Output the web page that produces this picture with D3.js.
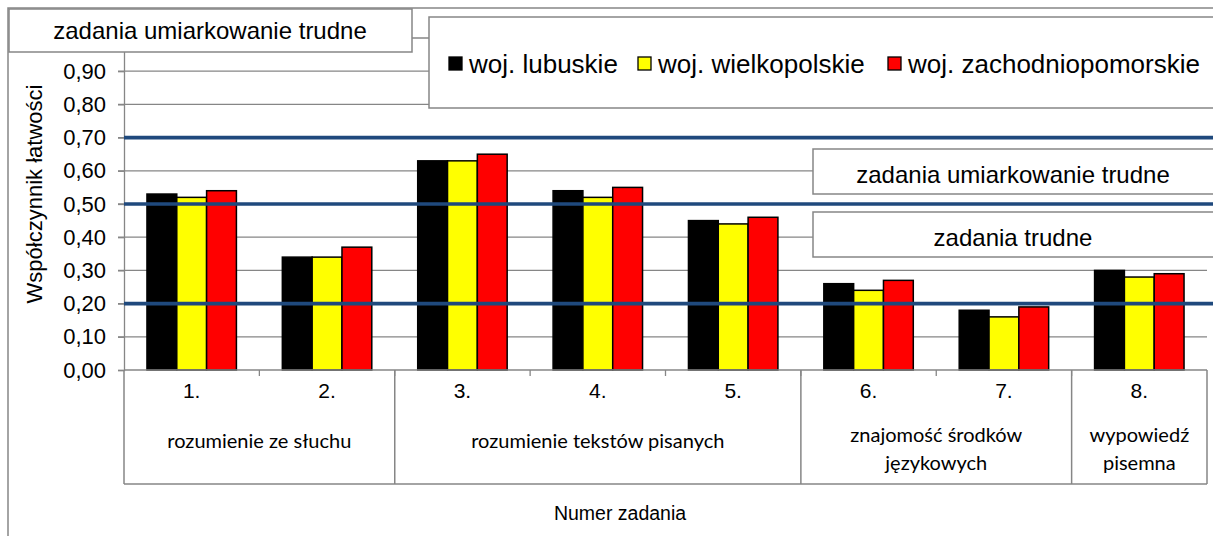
<!DOCTYPE html>
<html lang="pl">
<head>
<meta charset="utf-8">
<script src="https://cdn.jsdelivr.net/npm/d3@7"></script>
<style>
  body { margin: 0; background: #fff; }
  svg { display: block; }
  text { font-family: "Liberation Sans", Arial, sans-serif; fill: #000; }
  .grp { font-family: Lato, "Open Sans", sans-serif; }
</style>
</head>
<body>
<div id="wykres"></div>
<script>
// dane
const categories = ["1.", "2.", "3.", "4.", "5.", "6.", "7.", "8."];
const seriesNames = ["woj. lubuskie", "woj. wielkopolskie", "woj. zachodniopomorskie"];
const lubuskie = [0.53, 0.34, 0.63, 0.54, 0.45, 0.26, 0.18, 0.30];
const wielkopolskie = [0.52, 0.34, 0.63, 0.52, 0.44, 0.24, 0.16, 0.28];
const zachodniopomorskie = [0.54, 0.37, 0.65, 0.55, 0.46, 0.27, 0.19, 0.29];
const seriesColors = ["#000000", "#ffff00", "#ff0000"];
const yTicks = [0, 0.1, 0.2, 0.3, 0.4, 0.5, 0.6, 0.7, 0.8, 0.9, 1.0];
const thresholds = [0.2, 0.5, 0.7];
const groupLabels = [["rozumienie ze słuchu"], ["rozumienie tekstów pisanych"], ["znajomość środków", "językowych"], ["wypowiedź", "pisemna"]];
const groupFirst = [0, 2, 5, 7];
const groupLast = [1, 4, 6, 7];
const titleText = "zadania umiarkowanie trudne";
const noteTexts = ["zadania umiarkowanie trudne", "zadania trudne"];
const yTitle = "Współczynnik łatwości";
const xTitle = "Numer zadania";

function rysujWykres() {
    const width = 1213, height = 536;
    const margin = { top: 38, right: 6, bottom: 166, left: 124 };
    const gray = "#868686";
    const series = [lubuskie, wielkopolskie, zachodniopomorskie];

    const svg = d3.select("#wykres").append("svg")
        .attr("width", width)
        .attr("height", height);

    // ramka calego wykresu
    svg.append("rect")
        .attr("x", 8).attr("y", 8)
        .attr("width", width + 20).attr("height", height + 20)
        .attr("fill", "#fff").attr("stroke", gray).attr("stroke-width", 1.5);

    const x = d3.scaleBand()
        .domain(categories)
        .range([margin.left, width - margin.right]);

    const x1 = d3.scaleBand()
        .domain(seriesNames)
        .range([0, x.bandwidth()])
        .paddingInner(0)
        .paddingOuter(0.77);

    const y = d3.scaleLinear()
        .domain([0, 1])
        .range([height - margin.bottom, margin.top]);

    // linie siatki
    svg.append("g").selectAll("line")
        .data(yTicks.slice(1))
        .enter().append("line")
        .attr("x1", margin.left - 6).attr("x2", width - margin.right)
        .attr("y1", d => y(d)).attr("y2", d => y(d))
        .attr("stroke", gray).attr("stroke-width", 1.3);

    // os Y (etykieta 1,00 jest schowana pod tytulem)
    const yAxis = svg.append("g")
        .attr("transform", "translate(" + margin.left + ",0)")
        .call(d3.axisLeft(y)
            .tickValues(yTicks.filter(d => d < 1))
            .tickSize(6)
            .tickPadding(12)
            .tickFormat(d => d3.format(".2f")(d).replace(".", ",")));
    yAxis.select(".domain").attr("stroke", gray).attr("stroke-width", 1.3);
    yAxis.selectAll(".tick line").attr("stroke", gray).attr("stroke-width", 1.3);
    yAxis.selectAll("text")
        .style("font-family", '"Liberation Sans", Arial, sans-serif')
        .style("font-size", "22px")
        .attr("fill", "#000");

    // slupki
    svg.append("g").selectAll("g")
        .data(series)
        .enter().append("g")
        .attr("fill", (d, i) => seriesColors[i])
        .each(function(vals, si) {
            d3.select(this).selectAll("rect")
                .data(vals)
                .enter().append("rect")
                .attr("x", (d, ci) => x(categories[ci]) + x1(seriesNames[si]))
                .attr("y", d => y(d))
                .attr("width", x1.bandwidth())
                .attr("height", d => y(0) - y(d))
                .attr("stroke", "#000")
                .attr("stroke-width", 1.5);
        });

    // progi trudnosci
    svg.append("g").selectAll("line")
        .data(thresholds)
        .enter().append("line")
        .attr("x1", margin.left).attr("x2", width)
        .attr("y1", d => y(d)).attr("y2", d => y(d))
        .attr("stroke", "#1f497d").attr("stroke-width", 3.6);

    // os X z tabela kategorii
    const base = y(0);
    const tableBottom = base + 114;
    svg.append("line")
        .attr("x1", margin.left).attr("x2", width - margin.right)
        .attr("y1", base).attr("y2", base)
        .attr("stroke", gray).attr("stroke-width", 1.5);

    svg.append("g").selectAll("line")
        .data(categories.slice(1))
        .enter().append("line")
        .attr("x1", d => x(d)).attr("x2", d => x(d))
        .attr("y1", base).attr("y2", base + 6)
        .attr("stroke", gray).attr("stroke-width", 1.3);

    const groupEdges = groupFirst.map(i => x(categories[i])).concat([width - margin.right]);
    svg.append("g").selectAll("line")
        .data(groupEdges)
        .enter().append("line")
        .attr("x1", d => d).attr("x2", d => d)
        .attr("y1", base).attr("y2", tableBottom)
        .attr("stroke", gray).attr("stroke-width", 1.5);
    svg.append("line")
        .attr("x1", groupEdges[0]).attr("x2", groupEdges[groupEdges.length - 1])
        .attr("y1", tableBottom).attr("y2", tableBottom)
        .attr("stroke", gray).attr("stroke-width", 1.5);

    svg.append("g").selectAll("text")
        .data(categories)
        .enter().append("text")
        .attr("x", d => x(d) + x.bandwidth() / 2)
        .attr("y", base + 28)
        .attr("text-anchor", "middle")
        .style("font-size", "21px")
        .text(d => d);

    groupLabels.forEach((lines, gi) => {
        const cx = (x(categories[groupFirst[gi]]) + x(categories[groupLast[gi]]) + x.bandwidth()) / 2;
        const y0 = lines.length > 1 ? base + 72 : base + 78;
        lines.forEach((t, li) => {
            svg.append("text")
                .attr("class", "grp")
                .attr("x", cx)
                .attr("y", y0 + li * 28)
                .attr("text-anchor", "middle")
                .style("font-size", "20px")
                .text(t);
        });
    });

    svg.append("text")
        .attr("x", 620)
        .attr("y", base + 150)
        .attr("text-anchor", "middle")
        .style("font-size", "19.5px")
        .text(xTitle);

    svg.append("text")
        .attr("transform", "rotate(-90)")
        .attr("x", -194)
        .attr("y", 42)
        .attr("text-anchor", "middle")
        .style("font-size", "22px")
        .text(yTitle);

    // pola z opisami
    const boxes = [
        { x: 9, y: 9, w: 403, h: 43, text: titleText, tx: 210, ty: 39 },
        { x: 813, y: 149, w: 420, h: 45, text: noteTexts[0], tx: 1013, ty: 183 },
        { x: 813, y: 212, w: 420, h: 45, text: noteTexts[1], tx: 1013, ty: 246 }
    ];
    boxes.forEach(b => {
        svg.append("rect")
            .attr("x", b.x).attr("y", b.y)
            .attr("width", b.w).attr("height", b.h)
            .attr("fill", "#fff").attr("stroke", gray).attr("stroke-width", 1.5);
        svg.append("text")
            .attr("x", b.tx).attr("y", b.ty)
            .attr("text-anchor", "middle")
            .style("font-size", "24px")
            .text(b.text);
    });

    // legenda
    const legend = svg.append("g");
    legend.append("rect")
        .attr("x", 429).attr("y", 17)
        .attr("width", 820).attr("height", 91)
        .attr("fill", "#fff").attr("stroke", gray).attr("stroke-width", 1.5);
    const legendX = [449, 638, 888];
    seriesNames.forEach((name, i) => {
        legend.append("rect")
            .attr("x", legendX[i]).attr("y", 57)
            .attr("width", 13).attr("height", 13)
            .attr("fill", seriesColors[i])
            .attr("stroke", "#000").attr("stroke-width", 1.3);
        legend.append("text")
            .attr("x", legendX[i] + 20).attr("y", 73)
            .style("font-size", "26px")
            .text(name);
    });
}
rysujWykres();
</script>
</body>
</html>
